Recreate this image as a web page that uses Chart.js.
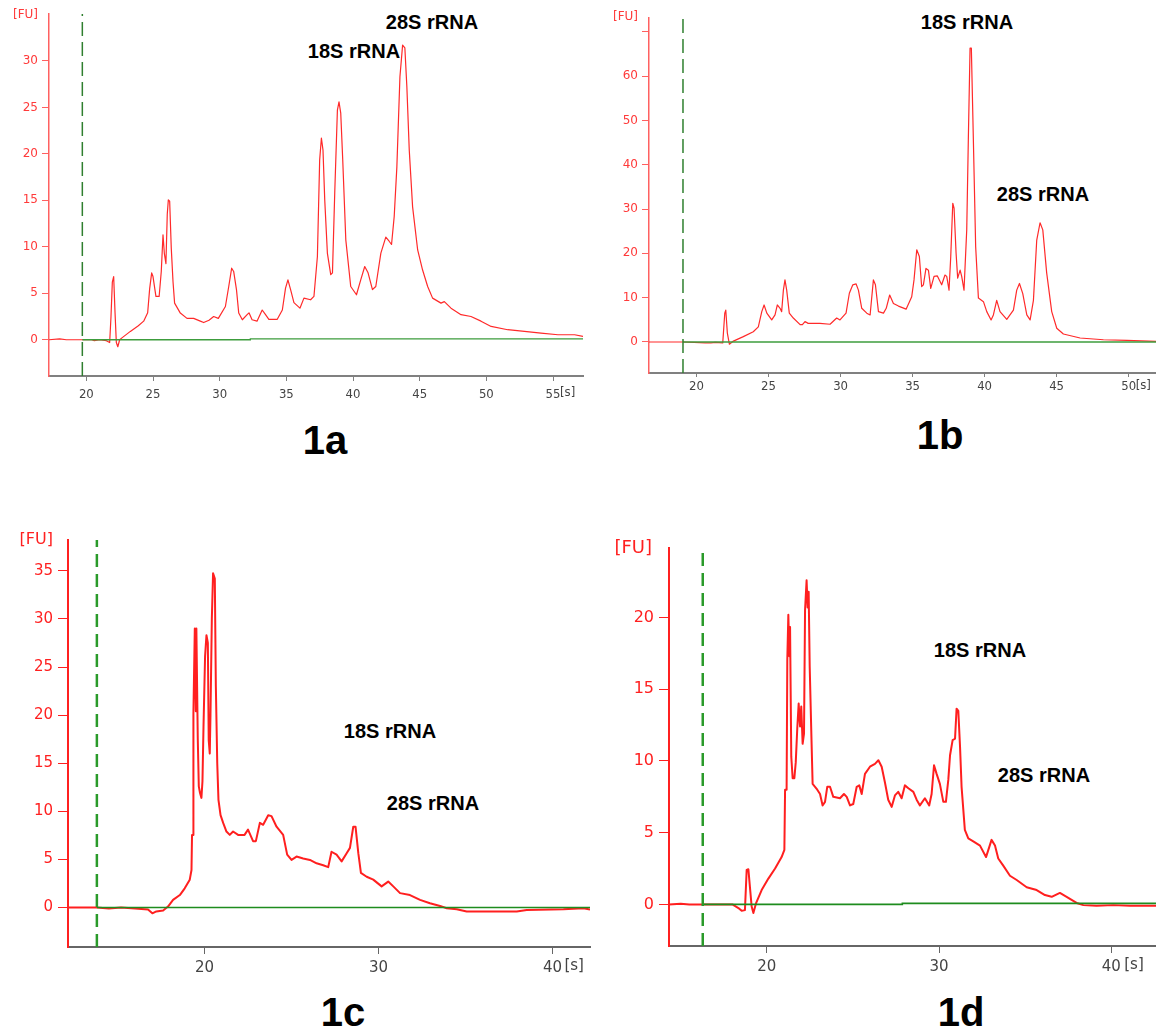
<!DOCTYPE html>
<html>
<head>
<meta charset="utf-8">
<title>Electropherograms 1a-1d</title>
<script src="https://cdn.jsdelivr.net/npm/chart.js@4.4.1/dist/chart.umd.min.js"></script>
<style>
    body { margin: 0; background: #fff; width: 1156px; height: 1031px; position: relative; overflow: hidden; font-family: 'Liberation Sans', Arial, sans-serif; }
    canvas { position: absolute; }
    .lbl { position: absolute; transform: translate(-50%, -50%); font-weight: bold; font-size: 20px; line-height: 1; color: #000; white-space: nowrap; }
    .cap { position: absolute; transform: translate(-50%, -50%); font-weight: bold; font-size: 40px; line-height: 1; color: #000; }
</style>
</head>
<body>

<div class="lbl" style="left:432px; top:22px;">28S rRNA</div>
<div class="lbl" style="left:354px; top:51px;">18S rRNA</div>
<div class="lbl" style="left:967px; top:22px;">18S rRNA</div>
<div class="lbl" style="left:1043px; top:194px;">28S rRNA</div>
<div class="lbl" style="left:390px; top:731px;">18S rRNA</div>
<div class="lbl" style="left:433px; top:803px;">28S rRNA</div>
<div class="lbl" style="left:980px; top:650px;">18S rRNA</div>
<div class="lbl" style="left:1044px; top:775px;">28S rRNA</div>

<div class="cap" style="left:325px; top:440px;">1a</div>
<div class="cap" style="left:940px; top:435px;">1b</div>
<div class="cap" style="left:343px; top:1012px;">1c</div>
<div class="cap" style="left:961px; top:1012px;">1d</div>

<script>
// --- data: [time (s), fluorescence (FU)] ---
const trace1a = [[17.2,0],[18.0,0.1],[18.5,0],[19.7,0],[20.4,0],[20.6,-0.1],[21.0,0],[21.5,-0.1],[21.75,-0.3],[21.85,2.5],[21.95,6.2],[22.05,6.8],[22.15,3.0],[22.25,-0.3],[22.36,-0.75],[22.5,0],[22.67,0.2],[23.3,0.9],[23.9,1.5],[24.3,2.0],[24.6,2.9],[24.75,5.5],[24.9,7.2],[25.0,6.8],[25.22,4.66],[25.46,4.66],[25.62,7.35],[25.75,11.3],[25.85,9.3],[25.97,8.2],[26.07,13.5],[26.15,15.05],[26.25,14.9],[26.37,9.86],[26.5,6.27],[26.62,3.94],[27.05,2.87],[27.55,2.3],[28.05,2.3],[28.55,2.0],[28.8,1.85],[29.2,2.1],[29.55,2.5],[29.9,2.3],[30.43,3.58],[30.68,5.73],[30.9,7.7],[31.05,7.35],[31.26,5.4],[31.43,2.87],[31.7,2.15],[32.06,2.7],[32.2,2.9],[32.43,2.15],[32.8,2.0],[33.19,3.2],[33.44,2.7],[33.69,2.2],[34.32,2.2],[34.7,3.2],[34.94,5.55],[35.12,6.45],[35.32,5.4],[35.57,4.0],[36.02,3.4],[36.32,4.48],[36.82,4.3],[37.07,4.66],[37.33,8.96],[37.5,19.35],[37.63,21.7],[37.75,20.4],[37.88,15.05],[38.08,9.3],[38.33,7.0],[38.46,7.2],[38.63,15.8],[38.83,24.7],[38.95,25.6],[39.08,24.4],[39.23,19.35],[39.46,10.75],[39.83,5.73],[40.26,4.84],[40.58,6.45],[40.88,7.88],[41.13,7.2],[41.46,5.4],[41.71,5.73],[42.09,9.32],[42.46,11.04],[42.71,10.6],[42.89,10.25],[43.09,13.26],[43.29,18.6],[43.52,28.3],[43.72,31.7],[43.89,31.4],[44.04,27.2],[44.22,20.4],[44.47,14.3],[44.85,9.66],[45.22,7.5],[45.6,5.73],[45.97,4.48],[46.6,3.94],[46.85,4.1],[47.35,3.4],[48.1,2.7],[48.85,2.5],[49.6,2.0],[50.36,1.43],[51.6,1.08],[52.86,0.9],[54.1,0.72],[55.37,0.54],[56.62,0.54],[57.25,0.36]];

const trace1b = [[16.7,0],[19.06,0],[20.6,-0.2],[21.0,-0.2],[21.3,-0.1],[21.82,-0.2],[21.96,6.5],[22.03,7.2],[22.14,2.0],[22.28,-0.5],[22.56,0.2],[23.25,1.2],[23.94,2.3],[24.29,3.4],[24.53,6.85],[24.69,8.35],[24.88,6.5],[25.22,4.97],[25.45,6.1],[25.61,8.35],[25.8,7.6],[25.91,6.85],[26.03,11.7],[26.14,14.0],[26.26,11.7],[26.44,6.5],[26.72,5.4],[27.19,3.9],[27.35,3.9],[27.53,4.6],[27.75,4.2],[28.57,4.2],[29.27,4.0],[29.73,5.4],[29.96,4.97],[30.38,6.5],[30.61,11.0],[30.85,12.9],[31.08,13.1],[31.24,11.7],[31.47,7.6],[31.82,6.5],[32.05,6.1],[32.28,14.0],[32.42,12.9],[32.63,6.85],[32.98,6.5],[33.17,7.6],[33.41,10.6],[33.67,8.7],[34.02,8.1],[34.55,7.4],[34.94,10.2],[35.1,14.0],[35.29,20.8],[35.47,19.3],[35.63,12.5],[35.75,12.9],[35.93,16.6],[36.1,16.2],[36.26,12.1],[36.49,14.8],[36.72,14.9],[37.02,12.9],[37.25,15.1],[37.37,14.8],[37.53,11.7],[37.65,19.3],[37.79,31.3],[37.88,30.2],[38.02,20.0],[38.13,14.4],[38.3,16.2],[38.41,14.8],[38.57,11.7],[38.76,25.3],[38.87,45.6],[38.99,66.3],[39.08,66.3],[39.22,45.6],[39.38,21.5],[39.57,9.9],[39.92,9.1],[40.15,6.85],[40.45,4.97],[40.61,6.1],[40.84,9.4],[41.07,6.85],[41.54,5.1],[42.0,7.2],[42.23,11.7],[42.42,13.2],[42.65,10.9],[42.93,6.1],[43.16,4.97],[43.39,9.4],[43.62,23.0],[43.85,26.9],[44.04,25.3],[44.31,15.6],[44.66,6.85],[45.01,3.1],[45.47,1.8],[46.63,0.9],[48.25,0.5],[49.87,0.35],[51.9,0.15]];

const trace1c = [[12.15,0],[13.81,0],[14.5,-0.1],[15.2,0],[16.0,-0.1],[16.75,-0.2],[17.0,-0.6],[17.23,-0.4],[17.62,-0.3],[17.9,0.1],[18.19,0.8],[18.58,1.3],[18.86,2.0],[19.15,2.9],[19.25,3.9],[19.28,7.55],[19.34,7.55],[19.36,20.2],[19.44,29.0],[19.5,20.4],[19.53,29.0],[19.61,17.6],[19.67,12.6],[19.74,11.9],[19.82,11.4],[19.88,13.1],[19.94,18.8],[20.03,26.1],[20.11,28.3],[20.19,27.5],[20.24,17.4],[20.3,16.0],[20.34,19.9],[20.42,30.1],[20.49,34.75],[20.59,34.2],[20.65,23.0],[20.73,15.0],[20.8,11.2],[20.92,9.6],[21.07,8.8],[21.26,7.9],[21.45,7.55],[21.64,7.9],[21.93,7.55],[22.3,7.55],[22.5,8.1],[22.79,6.9],[22.95,6.9],[23.18,8.8],[23.37,8.6],[23.66,9.6],[23.85,9.5],[24.14,8.4],[24.52,7.55],[24.75,5.5],[25.0,4.95],[25.29,5.3],[25.67,5.1],[26.06,4.95],[26.44,4.6],[26.82,4.4],[27.11,4.2],[27.3,5.8],[27.59,5.5],[27.88,4.8],[28.17,5.65],[28.36,6.2],[28.55,8.4],[28.68,8.4],[28.84,5.65],[28.99,3.6],[29.32,3.2],[29.7,2.9],[30.18,2.2],[30.56,2.7],[30.85,2.2],[31.24,1.5],[31.81,1.3],[32.39,0.8],[32.96,0.45],[33.54,0.17],[33.92,-0.07],[34.5,-0.17],[35.07,-0.4],[36.41,-0.4],[37.95,-0.4],[38.52,-0.25],[40.63,-0.17],[41.78,-0.07],[42.16,-0.2]];

const trace1d = [[14.32,0],[15.0,0.05],[15.5,0],[16.28,0],[17.0,0],[18.0,0],[18.4,-0.3],[18.54,-0.45],[18.73,-0.4],[18.83,2.4],[18.93,2.45],[19.02,1.2],[19.12,-0.15],[19.22,-0.6],[19.37,0.07],[19.7,1.0],[20.09,1.8],[20.48,2.5],[20.86,3.3],[21.02,3.8],[21.06,8.0],[21.15,8.0],[21.19,17.1],[21.25,20.2],[21.31,17.3],[21.35,19.35],[21.42,10.3],[21.5,8.8],[21.6,8.8],[21.68,9.9],[21.77,12.3],[21.85,14.0],[21.93,12.4],[22.0,13.8],[22.08,11.2],[22.16,11.9],[22.22,20.5],[22.31,22.6],[22.37,20.7],[22.43,21.8],[22.49,16.6],[22.59,11.7],[22.66,8.4],[22.8,8.2],[22.93,8.0],[23.09,7.7],[23.24,6.9],[23.38,7.15],[23.51,8.2],[23.67,8.2],[23.86,7.5],[24.25,7.4],[24.48,7.7],[24.64,7.5],[24.83,6.9],[25.02,7.0],[25.22,8.2],[25.37,8.3],[25.51,7.7],[25.7,9.1],[25.99,9.6],[26.28,9.8],[26.48,10.05],[26.67,9.6],[26.86,8.5],[27.05,7.3],[27.25,6.8],[27.44,7.6],[27.63,7.85],[27.83,7.4],[28.02,8.3],[28.22,8.1],[28.51,7.85],[28.7,7.3],[28.89,6.9],[29.18,7.4],[29.43,6.9],[29.57,7.7],[29.71,9.7],[29.86,9.1],[30.05,8.4],[30.25,7.15],[30.4,7.15],[30.54,8.7],[30.64,10.4],[30.79,11.45],[30.93,11.55],[31.02,13.65],[31.12,13.5],[31.22,11.0],[31.31,8.2],[31.5,5.2],[31.7,4.6],[31.99,4.4],[32.38,4.1],[32.73,3.3],[33.05,4.5],[33.25,4.1],[33.44,3.2],[33.73,2.7],[34.12,2.0],[34.51,1.7],[35.09,1.2],[35.67,1.0],[36.15,0.65],[36.54,0.53],[37.02,0.8],[37.41,0.53],[37.99,0.1],[38.38,-0.05],[39.15,-0.1],[40.12,-0.05],[41.09,-0.1],[42.6,-0.1]];

// green baselines (from the marker onwards)
const base1a = [[19.7,0],[32.3,0],[32.3,0.1],[57.25,0.1]];
const base1b = [[19.06,0],[51.9,0]];
const base1c = [[13.81,0],[42.16,0]];
const base1d = [[16.28,0],[27.87,0],[27.87,0.07],[42.6,0.07]];

// dashed marker position (s)
const marker1a = 19.7;
const marker1b = 19.06;
const marker1c = 13.81;
const marker1d = 16.28;

// axis ranges and ticks
const xRange1a = [17.2, 57.25], yRange1a = [-3.9, 35.05];
const xRange1b = [16.7, 51.9],  yRange1b = [-7, 73.1];
const xRange1c = [12.15, 42.16], yRange1c = [-4.1, 38.2];
const xRange1d = [14.32, 42.6], yRange1d = [-2.9, 24.85];

const xTicks1a = [20, 25, 30, 35, 40, 45, 50, 55];
const yTicks1a = [0, 5, 10, 15, 20, 25, 30];
const xTicks1b = [20, 25, 30, 35, 40, 45, 50];
const yTicks1b = [0, 10, 20, 30, 40, 50, 60, 70];
const yLabelHidden1b = [70];
const xTicks1c = [20, 30, 40];
const yTicks1c = [0, 5, 10, 15, 20, 25, 30, 35];
const xTicks1d = [20, 30, 40];
const yTicks1d = [0, 5, 10, 15, 20];

const pts = arr => arr.map(p => ({ x: p[0], y: p[1] }));

// --- panel layouts ---
const smallStyle = {
    traceColor: '#ff2a2a', traceWidth: 1.2,
    baseColor: '#3c9c3c', baseWidth: 1.3,
    dashColor: '#2f7f2f', dashWidth: 1.5, dash: [14, 6],
    yAxisColor: '#ff6060', yAxisWidth: 1.5, yTickLen: 7, yPad: 4,
    xAxisColor: '#808080', xAxisWidth: 2,
    yFont: { family: "'DejaVu Sans', sans-serif", size: 12 }, yColor: '#ff3a3a',
    xFont: { family: "'DejaVu Sans Condensed', 'Liberation Sans Narrow', sans-serif", size: 13 }, xColor: '#444',
    fuFont: "12px 'DejaVu Sans', sans-serif"
};
const bigStyle = {
    traceColor: '#ff1f1f', traceWidth: 2,
    baseColor: '#1e8c1e', baseWidth: 1.6,
    dashColor: '#2a9a2a', dashWidth: 2.5, dash: [13, 7],
    yAxisColor: '#ff2020', yAxisWidth: 2, yTickLen: 10, yPad: 5,
    xAxisColor: '#666', xAxisWidth: 2,
    yFont: { family: "'DejaVu Sans', sans-serif", size: 15 }, yColor: '#ff2020',
    xFont: { family: "'DejaVu Sans', sans-serif", size: 15 }, xColor: '#444',
    fuFont: "16px 'DejaVu Sans', sans-serif"
};

const panels = [
    { left: 0, top: 0, w: 600, h: 410, padTop: 14, padRight: 17, yW: 49, xH: 34, xTickLen: 5, xPad: 6,
      trace: trace1a, base: base1a, marker: marker1a, xr: xRange1a, yr: yRange1a, xt: xTicks1a, yt: yTicks1a, hidden: [],
      fu: [-11, 1], sDx: 7, sDy: 17, style: smallStyle },
    { left: 600, top: 0, w: 556, h: 410, padTop: 18, padRight: 0, yW: 49, xH: 37, xTickLen: 4, xPad: 2,
      trace: trace1b, base: base1b, marker: marker1b, xr: xRange1b, yr: yRange1b, xt: xTicks1b, yt: yTicks1b, hidden: yLabelHidden1b,
      fu: [-11, -1], sDx: 7, sDy: 13, style: smallStyle },
    { left: 0, top: 520, w: 600, h: 490, padTop: 20, padRight: 10, yW: 68, xH: 63, xTickLen: 7, xPad: 5,
      trace: trace1c, base: base1c, marker: marker1c, xr: xRange1c, yr: yRange1c, xt: xTicks1c, yt: yTicks1c, hidden: [],
      fu: [-15, 0], sDx: 12, sDy: 19, style: bigStyle },
    { left: 590, top: 520, w: 566, h: 490, padTop: 28, padRight: 0, yW: 79, xH: 64, xTickLen: 7, xPad: 5,
      trace: trace1d, base: base1d, marker: marker1d, xr: xRange1d, yr: yRange1d, xt: xTicks1d, yt: yTicks1d, hidden: [],
      fu: [-17, 0], sDx: 13, sDy: 19, style: Object.assign({}, bigStyle, { yFont: { family: "'DejaVu Sans', sans-serif", size: 16 }, fuFont: "18px 'DejaVu Sans', sans-serif" }) }
];

// draws the "[FU]" unit above the y axis and "[s]" after the last x tick
const unitLabels = {
    id: 'unitLabels',
    afterDraw(chart, args, o) {
        const { ctx, chartArea, scales } = chart;
        ctx.save();
        ctx.fillStyle = o.yColor;
        ctx.font = o.fuFont;
        ctx.textAlign = 'right';
        ctx.textBaseline = 'middle';
        ctx.fillText('[FU]', chartArea.left + o.fu[0], chartArea.top + o.fu[1]);
        const lastX = scales.x.getPixelForValue(o.lastTick);
        ctx.fillStyle = o.xColor;
        ctx.font = o.sFont;
        ctx.textAlign = 'left';
        ctx.fillText('[s]', lastX + o.sDx, chartArea.bottom + o.sDy);
        ctx.restore();
    }
};

panels.forEach(p => {
    const s = p.style;
    const canvas = document.createElement('canvas');
    canvas.width = p.w;
    canvas.height = p.h;
    canvas.style.left = p.left + 'px';
    canvas.style.top = p.top + 'px';
    document.body.appendChild(canvas);

    new Chart(canvas, {
        type: 'line',
        data: {
            datasets: [
                { data: pts([[p.marker, p.yr[0]], [p.marker, p.yr[1]]]), borderColor: s.dashColor, borderWidth: s.dashWidth, borderDash: s.dash },
                { data: pts(p.base), borderColor: s.baseColor, borderWidth: s.baseWidth },
                { data: pts(p.trace), borderColor: s.traceColor, borderWidth: s.traceWidth, borderJoinStyle: 'round' }
            ]
        },
        options: {
            responsive: false,
            animation: false,
            events: [],
            layout: { padding: { left: 0, top: p.padTop, right: p.padRight, bottom: 0 } },
            elements: { point: { radius: 0 }, line: { tension: 0, fill: false } },
            plugins: {
                legend: { display: false },
                tooltip: { enabled: false },
                unitLabels: {
                    fu: p.fu, fuFont: s.fuFont, yColor: s.yColor,
                    lastTick: p.xt[p.xt.length - 1], sDx: p.sDx, sDy: p.sDy,
                    sFont: s.xFont.size + "px " + s.xFont.family, xColor: s.xColor
                }
            },
            scales: {
                x: {
                    type: 'linear', min: p.xr[0], max: p.xr[1],
                    afterBuildTicks: sc => { sc.ticks = p.xt.map(v => ({ value: v })); },
                    afterFit: sc => { sc.height = p.xH; },
                    grid: { drawOnChartArea: false, drawTicks: true, tickLength: p.xTickLen, color: s.xAxisColor, tickColor: s.xAxisColor, tickWidth: 1 },
                    border: { display: true, color: s.xAxisColor, width: s.xAxisWidth },
                    ticks: { color: s.xColor, font: s.xFont, padding: p.xPad, maxRotation: 0, autoSkip: false }
                },
                y: {
                    type: 'linear', min: p.yr[0], max: p.yr[1],
                    afterBuildTicks: sc => { sc.ticks = p.yt.map(v => ({ value: v })); },
                    afterFit: sc => { sc.width = p.yW; },
                    grid: { drawOnChartArea: false, drawTicks: true, tickLength: s.yTickLen, color: s.yAxisColor, tickColor: s.yAxisColor, tickWidth: 1 },
                    border: { display: true, color: s.yAxisColor, width: s.yAxisWidth },
                    ticks: { color: s.yColor, font: s.yFont, padding: s.yPad,
                             callback: v => p.hidden.includes(v) ? '' : String(v) }
                }
            }
        },
        plugins: [unitLabels]
    });
});
</script>
</body>
</html>
